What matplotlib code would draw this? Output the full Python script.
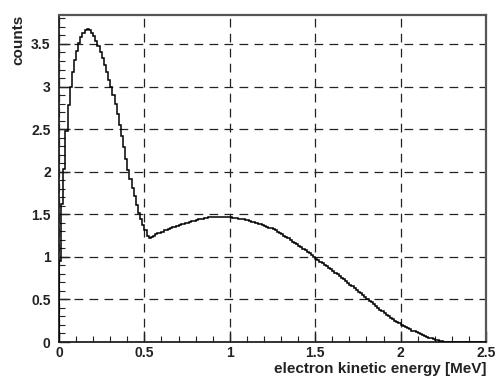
import numpy as np
import matplotlib
matplotlib.use("Agg")
from matplotlib import pyplot as plt
from matplotlib import ticker

# histogram: 200 bins of 0.0125 MeV between 0 and 2.5 MeV
bin_lo = 0.0
bin_hi = 2.5
n_bins = 200

counts = [
    0.95, 1.62, 2.03, 2.48, 2.78, 3.00, 3.17, 3.31, 3.42, 3.51,
    3.58, 3.63, 3.66, 3.67, 3.66, 3.63, 3.59, 3.54, 3.48, 3.41,
    3.33, 3.25, 3.17, 3.08, 2.99, 2.90, 2.79, 2.68, 2.55, 2.42,
    2.29, 2.15, 2.02, 1.91, 1.81, 1.71, 1.61, 1.52, 1.44, 1.37,
    1.31, 1.25, 1.22, 1.23, 1.25, 1.265, 1.275, 1.285, 1.295, 1.31,
    1.32, 1.327, 1.335, 1.345, 1.353, 1.362, 1.37, 1.38, 1.387, 1.395,
    1.402, 1.41, 1.417, 1.425, 1.432, 1.44, 1.444, 1.449, 1.454, 1.46,
    1.463, 1.466, 1.468, 1.47, 1.47, 1.471, 1.471, 1.47, 1.468, 1.466,
    1.463, 1.46, 1.457, 1.453, 1.449, 1.445, 1.439, 1.433, 1.427, 1.42,
    1.413, 1.405, 1.398, 1.39, 1.381, 1.373, 1.364, 1.355, 1.344, 1.333,
    1.322, 1.31, 1.296, 1.282, 1.266, 1.25, 1.234, 1.216, 1.198, 1.18,
    1.163, 1.145, 1.128, 1.11, 1.093, 1.075, 1.058, 1.04, 1.02, 1.0,
    0.98, 0.96, 0.943, 0.925, 0.908, 0.89, 0.871, 0.852, 0.834, 0.815,
    0.795, 0.775, 0.755, 0.735, 0.715, 0.695, 0.675, 0.655, 0.634, 0.612,
    0.591, 0.57, 0.549, 0.527, 0.506, 0.485, 0.464, 0.442, 0.421, 0.40,
    0.38, 0.36, 0.34, 0.32, 0.302, 0.285, 0.267, 0.25, 0.235, 0.22,
    0.205, 0.19, 0.176, 0.163, 0.149, 0.135, 0.124, 0.112, 0.101, 0.09,
    0.08, 0.07, 0.06, 0.05, 0.042, 0.035, 0.027, 0.02, 0.014, 0.009,
    0.005, 0.002, 0.0005,
]
counts = counts + [0.0] * (n_bins - len(counts))

x_ticks = [0, 0.5, 1, 1.5, 2, 2.5]
y_ticks = [0, 0.5, 1, 1.5, 2, 2.5, 3, 3.5]
x_label = "electron kinetic energy [MeV]"
y_label = "counts"

plt.rcParams['font.family'] = ['Liberation Sans', 'DejaVu Sans']

fig = plt.figure(figsize=(4.97, 3.76), dpi=100)
ax = fig.add_axes([59 / 497, 1 - 342 / 376, 427 / 497, 327 / 376])

edges = np.linspace(bin_lo, bin_hi, n_bins + 1)
ax.stairs(counts, edges, color='black', lw=1.1, zorder=3)

ax.set_xlim(0, 2.5)
ax.set_ylim(0, 3.84)
ax.set_xticks(x_ticks)
ax.set_yticks(y_ticks)
ax.xaxis.set_minor_locator(ticker.MultipleLocator(0.1))
ax.yaxis.set_minor_locator(ticker.MultipleLocator(0.1))
ax.xaxis.set_major_formatter(ticker.FormatStrFormatter('%g'))
ax.yaxis.set_major_formatter(ticker.FormatStrFormatter('%g'))

ax.tick_params(which='both', direction='in', top=False, right=False,
               colors='#222222', labelsize=10)
ax.tick_params(which='major', length=8, width=1.0)
ax.tick_params(which='minor', length=4.5, width=0.8)
ax.tick_params(axis='y', pad=6)
ax.tick_params(axis='x', pad=3)
for lab in ax.get_xticklabels() + ax.get_yticklabels():
    lab.set_fontweight('bold')

ax.grid(True, which='major', color='#222222', lw=0.9, linestyle=(0, (7, 5)))

for side in ['left', 'bottom']:
    ax.spines[side].set_color('#222222')
    ax.spines[side].set_linewidth(1.3)
for side in ['top', 'right']:
    ax.spines[side].set_color('#555555')
    ax.spines[side].set_linewidth(1.6)

ax.set_xlabel(x_label, fontsize=11, fontweight='bold', color='#222222')
ax.xaxis.set_label_coords(1.0, -0.06)
ax.xaxis.label.set_horizontalalignment('right')
ax.xaxis.label.set_verticalalignment('top')
ax.set_ylabel(y_label, fontsize=11, fontweight='bold', color='#222222')
ax.yaxis.set_label_coords(-0.095, 1.0)
ax.yaxis.label.set_horizontalalignment('right')
ax.yaxis.label.set_verticalalignment('center')

fig.savefig("out.png", dpi=100)
